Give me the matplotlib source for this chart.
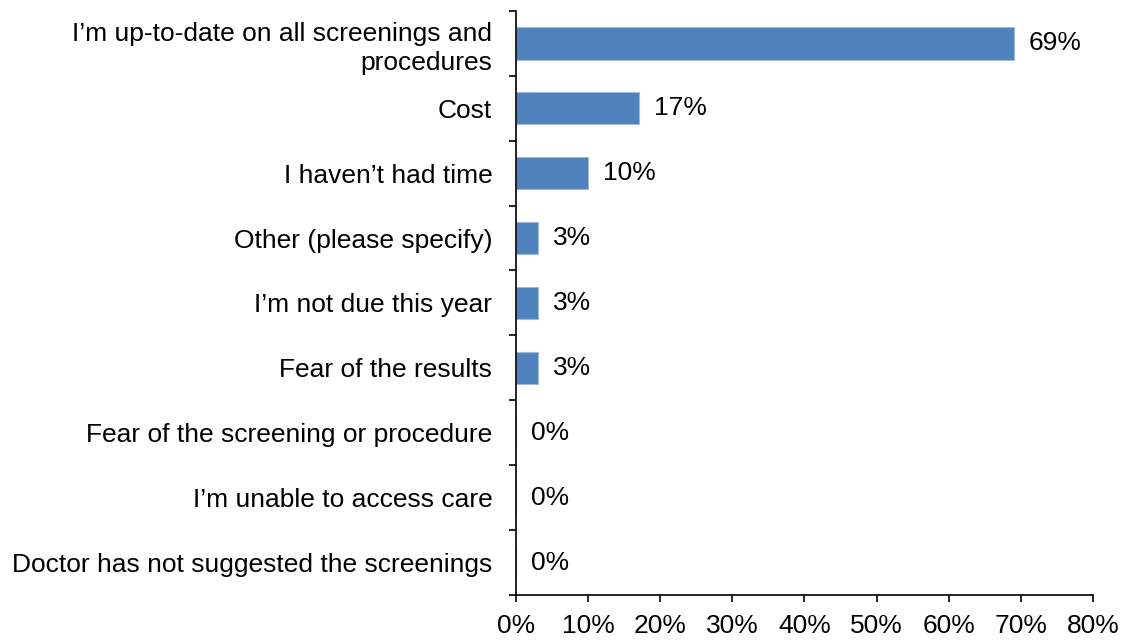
import matplotlib
matplotlib.use("Agg")
import matplotlib.pyplot as plt
import numpy as np

plt.rcParams['font.family'] = ['Liberation Sans', 'DejaVu Sans']

# survey answers, top to bottom
reasons = [
    "I\u2019m up-to-date on all screenings and\nprocedures",
    "Cost",
    "I haven\u2019t had time",
    "Other (please specify)",
    "I\u2019m not due this year",
    "Fear of the results",
    "Fear of the screening or procedure",
    "I\u2019m unable to access care",
    "Doctor has not suggested the screenings",
]
shares = [69, 17, 10, 3, 3, 3, 0, 0, 0]
xticks = [0, 10, 20, 30, 40, 50, 60, 70, 80]

FS = 19

fig = plt.figure(figsize=(11.28, 6.4), dpi=100)
ax = fig.add_axes([0.4574, 0.0703, 0.9690 - 0.4574, 0.983 - 0.0703])

ypos = np.arange(len(reasons))
ax.barh(ypos, shares, height=0.5, color='#4F81BD', edgecolor='#9DB9DC', linewidth=0.8)

for y, v in zip(ypos, shares):
    ax.annotate(f"{v}%", xy=(v, y), xytext=(11, 0), textcoords='offset points',
                va='center', ha='left', fontsize=FS)

ax.set_xlim(0, 80)
ax.set_ylim(len(reasons) - 0.5, -0.5)

ax.set_xticks(xticks)
ax.set_xticklabels([f"{t}%" for t in xticks], fontsize=FS)
ax.set_yticks(ypos)
ax.set_yticklabels(reasons, fontsize=FS, linespacing=1.25)
ax.set_yticks(np.arange(len(reasons) + 1) - 0.5, minor=True)

ax.tick_params(axis='y', which='major', length=0, pad=17)
ax.tick_params(axis='y', which='minor', length=5, width=1.2, direction='out')
ax.tick_params(axis='x', length=5, width=1.2, direction='out', pad=9)

for s in ['top', 'right']:
    ax.spines[s].set_visible(False)
for s in ['left', 'bottom']:
    ax.spines[s].set_linewidth(1.2)

fig.savefig("out.png", dpi=100)
